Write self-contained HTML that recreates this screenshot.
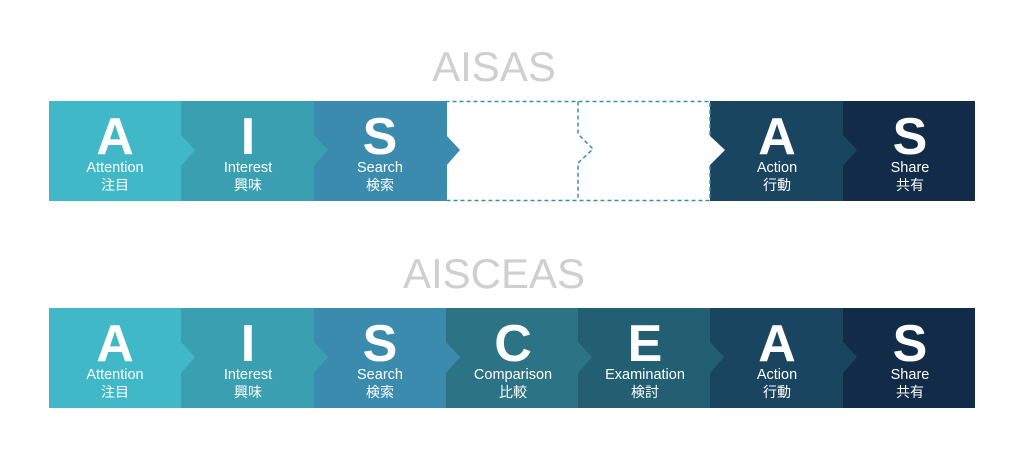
<!DOCTYPE html>
<html><head><meta charset="utf-8"><style>
html,body{margin:0;padding:0;background:#fff;}
svg{display:block;}
text{font-family:"Liberation Sans","Noto Sans CJK JP",sans-serif;fill:#fff;text-anchor:middle;}
.big{font-size:52px;font-weight:bold;}
.lab{font-size:14.5px;}
.jp{font-size:14px;}
.ttl{font-size:42px;fill:#cfcfcf;}
</style></head><body>
<svg width="1024" height="460" viewBox="0 0 1024 460">
<text class="ttl" x="494" y="81">AISAS</text>
<text class="ttl" x="494" y="288">AISCEAS</text>

<!-- Row 1 -->
<g>
<rect x="49" y="101" width="133" height="100" fill="#41b8c7"/>
<rect x="181" y="101" width="134" height="100" fill="#3aa0b1"/>
<rect x="314" y="101" width="133" height="100" fill="#3a8bae"/>
<rect x="710" y="101" width="134" height="100" fill="#1a4560"/>
<rect x="843" y="101" width="132" height="100" fill="#112b48"/>
<polygon points="181,135 195,150 181,166" fill="#41b8c7"/>
<polygon points="314,135 328,150 314,166" fill="#3aa0b1"/>
<polygon points="446,135 460,150 446,166" fill="#3a8bae"/>
<polygon points="843,135 857,150 843,166" fill="#1a4560"/>
<path d="M446,166 L446,200.5 L710,200.5 L710,101.5 L446,101.5 L446,135" fill="none" stroke="#3d8fa3" stroke-width="1.5" stroke-dasharray="4,3"/>
<path d="M578,101.5 L578,134 L593,149 L578,163 L578,200.5" fill="none" stroke="#3d8fa3" stroke-width="1.5" stroke-dasharray="4,3"/>
<polygon points="709,135 725,150 709,166" fill="#fff"/>
<text class="big" x="115" y="154">A</text><text class="lab" x="115" y="172">Attention</text><text class="jp" x="115" y="190">注目</text>
<text class="big" x="248" y="154">I</text><text class="lab" x="248" y="172">Interest</text><text class="jp" x="248" y="190">興味</text>
<text class="big" x="380" y="154">S</text><text class="lab" x="380" y="172">Search</text><text class="jp" x="380" y="190">検索</text>
<text class="big" x="777" y="154">A</text><text class="lab" x="777" y="172">Action</text><text class="jp" x="777" y="190">行動</text>
<text class="big" x="910" y="154">S</text><text class="lab" x="910" y="172">Share</text><text class="jp" x="910" y="190">共有</text>
</g>

<!-- Row 2 -->
<g>
<rect x="49" y="308" width="133" height="100" fill="#41b8c7"/>
<rect x="181" y="308" width="134" height="100" fill="#3aa0b1"/>
<rect x="314" y="308" width="133" height="100" fill="#3a8bae"/>
<rect x="446" y="308" width="133" height="100" fill="#2b7385"/>
<rect x="578" y="308" width="133" height="100" fill="#235f73"/>
<rect x="710" y="308" width="134" height="100" fill="#1a4560"/>
<rect x="843" y="308" width="132" height="100" fill="#112b48"/>
<polygon points="181,342 195,357 181,373" fill="#41b8c7"/>
<polygon points="314,342 328,357 314,373" fill="#3aa0b1"/>
<polygon points="446,342 460,357 446,373" fill="#3a8bae"/>
<polygon points="578,342 592,357 578,373" fill="#2b7385"/>
<polygon points="710,342 724,357 710,373" fill="#235f73"/>
<polygon points="843,342 857,357 843,373" fill="#1a4560"/>
<text class="big" x="115" y="361">A</text><text class="lab" x="115" y="379">Attention</text><text class="jp" x="115" y="397">注目</text>
<text class="big" x="248" y="361">I</text><text class="lab" x="248" y="379">Interest</text><text class="jp" x="248" y="397">興味</text>
<text class="big" x="380" y="361">S</text><text class="lab" x="380" y="379">Search</text><text class="jp" x="380" y="397">検索</text>
<text class="big" x="513" y="361">C</text><text class="lab" x="513" y="379">Comparison</text><text class="jp" x="513" y="397">比較</text>
<text class="big" x="645" y="361">E</text><text class="lab" x="645" y="379">Examination</text><text class="jp" x="645" y="397">検討</text>
<text class="big" x="777" y="361">A</text><text class="lab" x="777" y="379">Action</text><text class="jp" x="777" y="397">行動</text>
<text class="big" x="910" y="361">S</text><text class="lab" x="910" y="379">Share</text><text class="jp" x="910" y="397">共有</text>
</g>
</svg>
</body></html>
